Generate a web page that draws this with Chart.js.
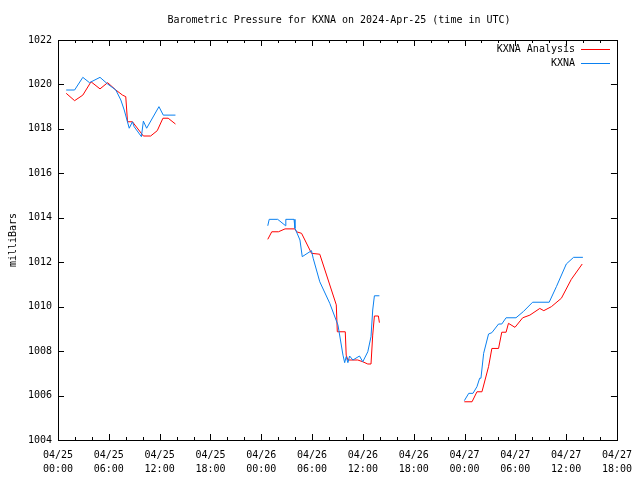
<!DOCTYPE html>
<html>
<head>
<meta charset="utf-8">
<title>KXNA pressure</title>
<script src="https://cdn.jsdelivr.net/npm/chart.js@4"></script>
<style>
    body { margin: 0; background: #fff; }
    canvas { display: block; }
</style>
</head>
<body>
<canvas id="chart" width="640" height="480"></canvas>
<script>
// hours since 04/25 00:00 UTC, null marks a gap in the record
const analysisHours = [
    0.97, 1.96, 2.93, 3.9, 4.96, 5.86, 6.83, 7.62, 8.0, 8.21, 8.79, 10.08, 10.94, 11.72, 12.39, 13.01, 13.87,
    20,
    24.77, 25.24, 26.03, 26.81, 27.98, 28.17, 28.76, 29.74, 29.93, 30.91, 32.86, 32.98, 33.92, 34.03, 34.23,
    35.4, 35.99, 36.58, 36.96, 37.16, 37.36, 37.83, 37.95,
    42,
    47.98, 48.89, 49.47, 50.06, 50.84, 51.23, 52.02, 52.4, 52.91, 53.19, 53.96, 54.87, 55.72, 56.89, 57.36,
    58.26, 59.44, 60.61, 61.9
];
const analysisValues = [
    1019.6, 1019.27, 1019.52, 1020.12, 1019.8, 1020.08, 1019.75, 1019.52, 1019.45, 1018.32, 1018.32, 1017.68,
    1017.68, 1017.92, 1018.48, 1018.48, 1018.22,
    null,
    1013.03, 1013.37, 1013.37, 1013.5, 1013.5, 1013.37, 1013.3, 1012.55, 1012.4, 1012.36, 1010.08, 1008.87,
    1008.87, 1007.82, 1007.6, 1007.6, 1007.52, 1007.42, 1007.42, 1008.72, 1009.58, 1009.58, 1009.28,
    null,
    1005.72, 1005.72, 1006.17, 1006.17, 1007.3, 1008.12, 1008.12, 1008.85, 1008.85, 1009.25, 1009.07, 1009.5,
    1009.62, 1009.92, 1009.82, 1010.0, 1010.38, 1011.23, 1011.92
];

const kxnaHours = [
    0.97, 1.96, 2.93, 3.72, 4.96, 5.86, 6.83, 7.42, 7.82, 8.41, 8.79, 8.99, 9.85, 10.08, 10.47, 11.92, 12.43, 13.87,
    20,
    24.77, 24.94, 25.94, 26.88, 26.9, 27.87, 27.98, 28.57, 28.84, 29.93, 30.13, 30.91, 32.09, 33.06, 33.65,
    33.85, 34.03, 34.23, 34.43, 34.82, 35.6, 35.99, 36.58, 36.96, 37.16, 37.36, 37.95,
    42,
    47.98, 48.5, 49.0, 49.47, 49.79, 49.94, 50.26, 50.84, 51.23, 52.02, 52.4, 52.91, 54.08, 54.95, 56.04,
    58.0, 58.85, 60.02, 60.88, 61.98
];
const kxnaValues = [
    1019.75, 1019.75, 1020.32, 1020.08, 1020.32, 1020.02, 1019.75, 1019.3, 1018.85, 1018.03, 1018.32, 1018.1,
    1017.65, 1018.35, 1018.03, 1019.0, 1018.62, 1018.62,
    null,
    1013.64, 1013.93, 1013.93, 1013.64, 1013.93, 1013.93, 1013.53, 1013.0, 1012.25, 1012.52, 1012.18, 1011.12,
    1010.15, 1009.17, 1007.82, 1007.48, 1007.75, 1007.48, 1007.78, 1007.6, 1007.78, 1007.52, 1007.97, 1008.65,
    1009.85, 1010.49, 1010.49,
    null,
    1005.77, 1006.1, 1006.1, 1006.4, 1006.78, 1006.78, 1007.9, 1008.77, 1008.83, 1009.22, 1009.22, 1009.5,
    1009.5, 1009.78, 1010.2, 1010.2, 1010.9, 1011.92, 1012.22, 1012.22
];

const xMin = 0, xMax = 66, xStep = 6, xMinorStep = 2;
const yMin = 1004, yMax = 1022, yStep = 2;
const seriesNames = ['KXNA Analysis', 'KXNA'];
const seriesColors = ['#ff0000', '#0a80f0'];

const FONT = 'DejaVu Sans Mono';

function toPoints(hours, values) {
    return hours.map((h, i) => ({ x: h, y: values[i] }));
}

// gnuplot style frame, mirrored ticks, title and legend
const frame = {
    id: 'frame',
    afterDraw(chart) {
        const ctx = chart.ctx;
        const a = chart.chartArea;
        const xs = chart.scales.x, ys = chart.scales.y;
        ctx.save();
        ctx.strokeStyle = '#000';
        ctx.lineWidth = 1;
        ctx.strokeRect(Math.round(a.left) + 0.5, Math.round(a.top) + 0.5,
            Math.round(a.right - a.left), Math.round(a.bottom - a.top));

        ctx.beginPath();
        for (let v = xMin; v <= xMax; v += xMinorStep) {
            const px = Math.round(xs.getPixelForValue(v)) + 0.5;
            const len = v % xStep === 0 ? 6 : 3;
            ctx.moveTo(px, a.bottom); ctx.lineTo(px, a.bottom - len);
            ctx.moveTo(px, a.top); ctx.lineTo(px, a.top + len);
        }
        for (let v = yMin; v <= yMax; v += yStep) {
            const py = Math.round(ys.getPixelForValue(v)) + 0.5;
            ctx.moveTo(a.left, py); ctx.lineTo(a.left + 6, py);
            ctx.moveTo(a.right, py); ctx.lineTo(a.right - 6, py);
        }
        ctx.stroke();

        ctx.fillStyle = '#000';
        ctx.font = '10px "' + FONT + '"';
        ctx.textBaseline = 'middle';
        ctx.textAlign = 'center';
        ctx.fillText('Barometric Pressure for KXNA on 2024-Apr-25 (time in UTC)', 339, 20);

        ctx.save();
        ctx.translate(13, 240);
        ctx.rotate(-Math.PI / 2);
        ctx.fillText('milliBars', 0, 0);
        ctx.restore();

        // legend: text right aligned, sample line after it
        ctx.textAlign = 'right';
        seriesNames.forEach((name, i) => {
            const y = 49 + i * 14;
            ctx.fillStyle = '#000';
            ctx.fillText(name, 575, y);
            ctx.fillStyle = seriesColors[i];
            ctx.fillRect(581, y, 29, 1);
        });
        ctx.restore();
    }
};

new Chart(document.getElementById('chart'), {
    type: 'line',
    data: {
        datasets: [
            {
                label: seriesNames[0],
                data: toPoints(analysisHours, analysisValues),
                borderColor: seriesColors[0],
                borderWidth: 1,
                pointRadius: 0,
                tension: 0,
                spanGaps: false,
                order: 1
            },
            {
                label: seriesNames[1],
                data: toPoints(kxnaHours, kxnaValues),
                borderColor: seriesColors[1],
                borderWidth: 1,
                pointRadius: 0,
                tension: 0,
                spanGaps: false,
                order: 0
            }
        ]
    },
    options: {
        responsive: false,
        animation: false,
        layout: { padding: { top: 40, right: 19, left: 0, bottom: 0 } },
        plugins: {
            legend: { display: false },
            tooltip: { enabled: false }
        },
        scales: {
            x: {
                type: 'linear',
                min: xMin,
                max: xMax,
                afterFit: s => { s.height = 40; },
                grid: { display: false, drawTicks: false },
                border: { display: false },
                ticks: {
                    stepSize: xStep,
                    maxRotation: 0,
                    autoSkip: false,
                    padding: 8,
                    color: '#000',
                    font: { family: FONT, size: 10, lineHeight: 1.4 },
                    callback: v => {
                        const day = 25 + Math.floor(v / 24);
                        const hr = String(v % 24).padStart(2, '0');
                        return ['04/' + day, hr + ':00'];
                    }
                }
            },
            y: {
                min: yMin,
                max: yMax,
                afterFit: s => { s.width = 58; },
                grid: { display: false, drawTicks: false },
                border: { display: false },
                ticks: {
                    stepSize: yStep,
                    padding: 6,
                    color: '#000',
                    font: { family: FONT, size: 10 },
                    callback: v => String(v)
                }
            }
        }
    },
    plugins: [frame]
});
</script>
</body>
</html>
